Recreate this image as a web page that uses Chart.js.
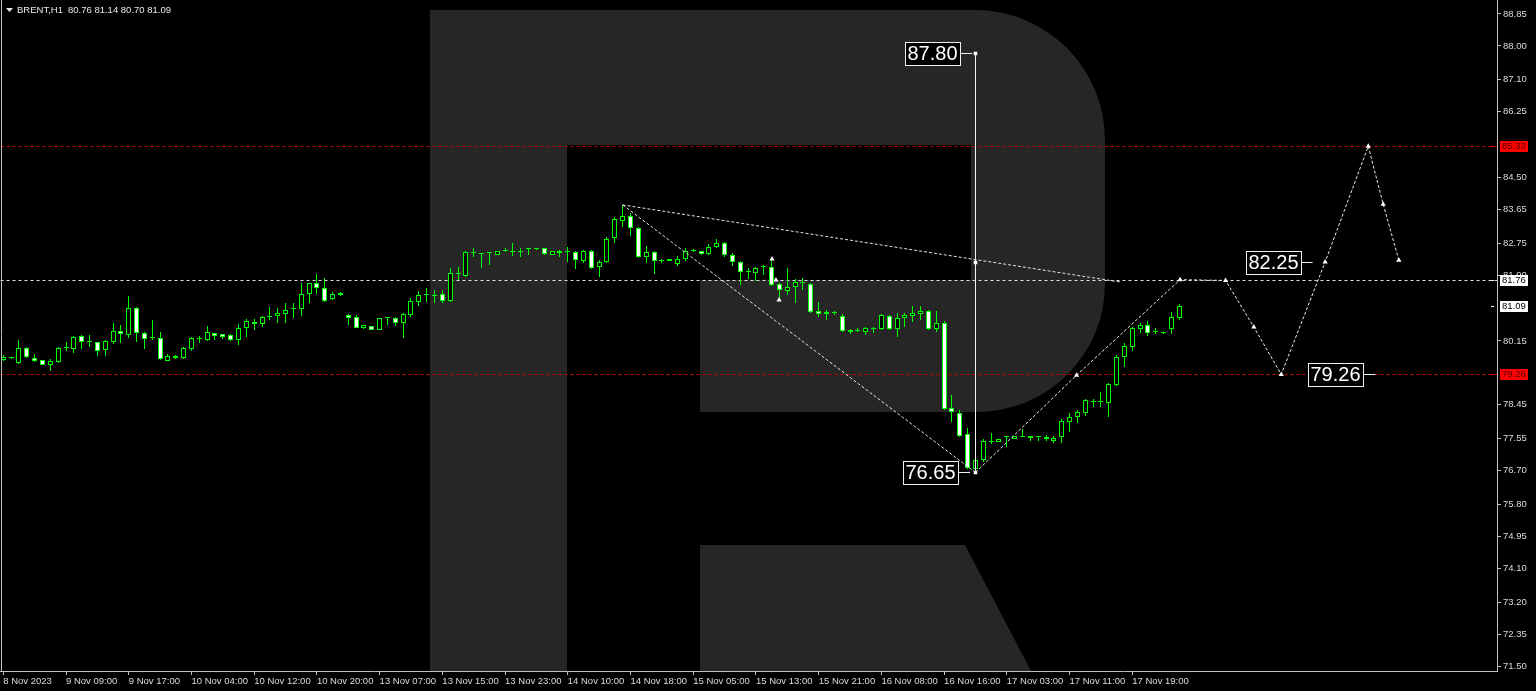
<!DOCTYPE html>
<html>
<head>
<meta charset="utf-8">
<style>
  html, body { margin: 0; padding: 0; background: #000; overflow: hidden; }
</style>
<script src="https://cdn.jsdelivr.net/npm/chart.js@4.4.0/dist/chart.umd.min.js"></script>
</head>
<body>
<canvas id="chart" width="1536" height="691"></canvas>
<script>
"use strict";

// BRENT H1 candles
const opens = [79.64,79.70,79.57,79.97,79.70,79.64,79.51,79.59,79.97,79.94,80.29,80.12,80.12,79.91,80.12,80.41,80.31,81.03,80.36,80.23,
  80.23,79.62,79.70,79.70,79.94,80.20,80.18,80.36,80.33,80.31,80.18,80.49,80.65,80.60,80.79,80.81,80.87,80.99,81.00,81.40,
  81.69,81.56,81.27,81.38,80.84,80.79,80.49,80.55,80.44,80.76,80.76,80.63,80.84,81.19,81.37,81.35,81.40,81.21,81.93,81.88,
  82.49,82.46,82.49,82.44,82.54,82.52,82.51,82.59,82.59,82.62,82.44,82.54,82.52,82.51,82.28,82.54,82.12,82.25,82.89,83.34,
  83.47,83.16,82.38,82.52,82.28,82.28,82.20,82.33,82.54,82.54,82.46,82.65,82.76,82.44,82.25,81.98,81.96,82.12,82.12,81.67,
  81.48,81.59,81.69,81.67,80.95,80.87,80.89,80.81,80.44,80.41,80.39,80.49,80.47,80.81,80.47,80.76,80.81,80.87,80.95,80.47,
  80.63,78.36,78.23,77.67,76.74,76.98,77.46,77.46,77.59,77.54,77.59,77.62,77.60,77.59,77.49,77.59,77.99,78.13,78.23,78.53,
  78.54,78.50,78.98,79.72,79.99,80.47,80.57,80.39,80.36,80.47,80.76];
const highs = [79.78,79.72,80.18,79.99,79.81,79.65,79.67,79.99,80.12,80.29,80.31,80.31,80.13,80.18,80.63,80.57,81.35,81.05,80.39,80.71,
  80.39,79.81,79.77,79.99,80.26,80.29,80.55,80.37,80.34,80.33,80.60,80.73,80.73,80.81,81.05,81.03,81.16,81.16,81.69,81.70,
  81.93,81.82,81.45,81.45,80.87,80.84,80.58,80.56,80.77,80.79,80.79,80.89,81.29,81.48,81.56,81.51,81.51,82.09,82.12,82.54,
  82.62,82.48,82.52,82.55,82.62,82.76,82.62,82.62,82.63,82.63,82.55,82.57,82.65,82.54,82.57,82.57,82.30,82.92,83.45,83.77,
  83.55,83.18,82.68,82.54,82.33,82.34,82.41,82.62,82.60,82.55,82.73,82.86,82.77,82.49,82.27,82.09,82.12,82.17,82.36,81.69,
  82.09,81.80,81.82,81.69,81.19,80.97,80.95,80.87,80.47,80.49,80.52,80.52,80.86,80.83,80.89,80.89,81.08,81.08,80.97,80.95,
  80.68,78.71,78.31,77.83,77.04,77.54,77.70,77.55,77.62,77.63,77.81,77.63,77.63,77.65,77.62,78.07,78.23,78.31,78.61,78.61,
  78.79,79.03,79.78,80.10,80.52,80.63,80.68,80.49,80.39,80.92,81.14];
const lows = [79.62,79.67,79.54,79.70,79.59,79.50,79.35,79.57,79.88,79.83,79.94,79.99,79.75,79.75,80.07,80.09,80.23,80.12,79.94,80.18,
  79.64,79.62,79.68,79.67,79.88,80.09,80.15,80.18,80.21,80.15,80.04,80.26,80.44,80.52,80.71,80.63,80.63,80.76,80.81,81.16,
  81.40,81.19,81.24,81.35,80.57,80.49,80.47,80.43,80.43,80.57,80.55,80.23,80.79,81.08,81.19,81.16,81.16,81.19,81.77,81.85,
  82.38,82.09,82.17,82.43,82.53,82.41,82.38,82.44,82.58,82.45,82.43,82.38,82.25,82.07,82.22,82.07,81.85,82.22,82.76,83.18,
  82.94,82.36,82.22,81.93,82.22,82.27,82.14,82.28,82.52,82.45,82.44,82.62,82.38,82.14,81.64,81.80,81.75,81.90,81.61,81.29,
  81.37,81.16,81.51,80.89,80.79,80.71,80.84,80.39,80.33,80.40,80.31,80.36,80.45,80.45,80.26,80.52,80.65,80.71,80.44,80.39,
  78.31,78.00,77.59,76.74,76.65,76.93,77.41,77.45,77.33,77.53,77.59,77.49,77.49,77.49,77.44,77.44,77.73,77.97,78.15,78.39,
  78.39,78.13,78.95,79.46,79.88,80.36,80.28,80.33,80.33,80.33,80.70];
const closes = [79.72,79.69,79.97,79.72,79.62,79.51,79.62,79.97,79.96,80.26,80.12,80.13,79.88,80.15,80.41,80.33,81.03,80.36,80.20,80.22,
  79.67,79.75,79.75,79.97,80.23,80.21,80.39,80.28,80.26,80.18,80.49,80.68,80.60,80.79,80.81,80.89,80.97,81.00,81.40,81.69,
  81.56,81.21,81.40,81.43,80.76,80.49,80.57,80.44,80.76,80.77,80.63,80.87,81.21,81.37,81.38,81.34,81.21,81.96,81.94,82.52,
  82.50,82.47,82.50,82.54,82.54,82.51,82.52,82.60,82.62,82.46,82.54,82.49,82.51,82.30,82.54,82.09,82.25,82.86,83.39,83.47,
  83.16,82.38,82.52,82.28,82.27,82.33,82.33,82.54,82.55,82.46,82.65,82.76,82.44,82.25,81.98,81.99,82.09,82.11,81.64,81.51,
  81.59,81.72,81.70,80.92,80.87,80.92,80.90,80.41,80.39,80.41,80.49,80.47,80.84,80.47,80.76,80.84,80.89,80.95,80.47,80.63,
  78.34,78.26,77.62,76.77,76.98,77.49,77.47,77.54,77.60,77.62,77.60,77.57,77.59,77.54,77.57,78.02,78.13,78.26,78.58,78.54,
  78.53,79.00,79.72,80.02,80.49,80.57,80.36,80.38,80.37,80.79,81.09];

// time axis: bar index of each date tick and its text
const timeTickIdx = [0, 8, 16, 24, 32, 40, 48, 56, 64, 72, 80, 88, 96, 104, 112, 120, 128, 136, 144];
const timeLabels = ['8 Nov 2023', '9 Nov 09:00', '9 Nov 17:00', '10 Nov 04:00', '10 Nov 12:00', '10 Nov 20:00',
  '13 Nov 07:00', '13 Nov 15:00', '13 Nov 23:00', '14 Nov 10:00', '14 Nov 18:00', '15 Nov 05:00', '15 Nov 13:00',
  '15 Nov 21:00', '16 Nov 08:00', '16 Nov 16:00', '17 Nov 03:00', '17 Nov 11:00', '17 Nov 19:00'];
const priceTicks = [71.50, 72.35, 73.20, 74.10, 74.95, 75.80, 76.70, 77.55, 78.45, 80.15, 81.90, 82.75, 83.65, 84.50, 86.25, 87.10, 88.00, 88.85];

// horizontal levels
const redLevels = [85.33, 79.26];
const whiteLevels = [81.76];

// drawn analysis (bar index, price)
const fallLineX = [79, 124];
const fallLineY = [83.77, 76.65];
const topLineX = [79, 142.4];
const topLineY = [83.77, 81.72];
const pathX = [124, 136.9, 150.1, 155.9, 159.5, 163.0, 168.6, 174.1, 176.0, 178.0];
const pathY = [76.65, 79.24, 81.78, 81.76, 80.52, 79.26, 82.25, 85.33, 83.79, 82.30];
const arrowX = [98.05, 98.55, 98.95];
const arrowY = [82.33, 81.77, 81.24];
const rangeX = [124, 124, 124];
const rangeY = [76.65, 82.25, 87.80];
const tagValues = [87.80, 76.65, 82.25, 79.26];
const tagX = [123.6, 123.3, 167.0, 175.0];

const FONT = '"Liberation Sans", Arial, sans-serif';
const idx = opens.map((_, i) => i);
const pts = (xs, ys) => xs.map((x, i) => ({x: x, y: ys[i]}));

const backdrop = {
  id: 'backdrop',
  // keep candles and level lines on whole pixels so they stay crisp
  afterDatasetsUpdate(chart) {
    chart.data.datasets.forEach((ds, di) => {
      const meta = chart.getDatasetMeta(di);
      if (ds.type === 'bar') {
        meta.data.forEach(el => {
          el.x = Math.floor(el.x) + 0.5;
          el.y = Math.round(el.y);
          el.base = Math.round(el.base);
          if (Math.abs(el.base - el.y) < 1) el.y = el.base - 1;
        });
      } else if (ds.snap) {
        meta.data.forEach(el => {
          el.x = Math.floor(el.x) + 0.5;
          el.y = Math.floor(el.y) + 0.5;
        });
      }
    });
  },
  beforeDraw(chart) {
    const {ctx, chartArea: a} = chart;
    ctx.save();
    ctx.fillStyle = '#000';
    ctx.fillRect(0, 0, chart.width, chart.height);
    ctx.beginPath();
    ctx.rect(a.left, a.top, a.right - a.left, a.bottom - a.top);
    ctx.clip();
    // logo watermark
    ctx.fillStyle = '#262626';
    ctx.beginPath();
    ctx.moveTo(430, 10);
    ctx.lineTo(972, 10);
    ctx.arcTo(1105, 10, 1105, 200, 130);
    ctx.lineTo(1105, 282);
    ctx.arcTo(1105, 412, 975, 412, 128);
    ctx.lineTo(700, 412);
    ctx.lineTo(700, 280);
    ctx.lineTo(971, 280);
    ctx.lineTo(971, 145);
    ctx.lineTo(567, 145);
    ctx.lineTo(567, a.bottom);
    ctx.lineTo(430, a.bottom);
    ctx.closePath();
    ctx.moveTo(700, 545);
    ctx.lineTo(965, 545);
    ctx.lineTo(1031, a.bottom);
    ctx.lineTo(700, a.bottom);
    ctx.closePath();
    ctx.fill();
    ctx.restore();
  },
  afterDraw(chart) {
    const {ctx, chartArea: a} = chart;
    const xs = chart.scales.x, ys = chart.scales.y;
    ctx.save();
    // frame left edge
    ctx.strokeStyle = '#c0c0c0';
    ctx.lineWidth = 1;
    ctx.beginPath();
    ctx.moveTo(1.5, 0);
    ctx.lineTo(1.5, a.bottom);
    ctx.stroke();

    // symbol header
    const last = closes.length - 1;
    ctx.fillStyle = '#e8e8e8';
    ctx.beginPath();
    ctx.moveTo(6, 8); ctx.lineTo(13, 8); ctx.lineTo(9.5, 12);
    ctx.closePath(); ctx.fill();
    ctx.font = '9.5px ' + FONT;
    ctx.textBaseline = 'middle';
    ctx.textAlign = 'left';
    ctx.fillText('BRENT,H1', 17, 10.5);
    ctx.fillText([opens[last], highs[last], lows[last], closes[last]].map(v => v.toFixed(2)).join(' '), 68, 10.5);

    // value tags on the chart
    ctx.font = '20px ' + FONT;
    tagValues.forEach((v, i) => {
      const px = xs.getPixelForValue(tagX[i]);
      const py = Math.round(ys.getPixelForValue(v));
      const txt = v.toFixed(2);
      const w = Math.ceil(ctx.measureText(txt).width) + 4;
      const right = Math.round(px) - 12;
      const left = right - w;
      ctx.fillStyle = '#000';
      ctx.fillRect(left, py - 11, w, 23);
      ctx.strokeStyle = '#f0f0f0';
      ctx.strokeRect(left + 0.5, py - 10.5, w, 23);
      ctx.beginPath();
      ctx.moveTo(right, py + 0.5);
      ctx.lineTo(px, py + 0.5);
      ctx.stroke();
      ctx.fillStyle = '#ffffff';
      ctx.fillText(txt, left + 2.5, py + 1.5);
    });

    // price-axis level tags
    const axisTag = (v, bg, fg) => {
      const py = Math.round(ys.getPixelForValue(v));
      ctx.fillStyle = bg;
      ctx.fillRect(a.right + 3, py - 5, 28, 11);
      ctx.strokeStyle = bg;
      ctx.beginPath();
      ctx.moveTo(a.right - 6, py + 0.5); ctx.lineTo(a.right - 3, py + 0.5);
      ctx.stroke();
      ctx.fillStyle = fg;
      ctx.font = '9.5px ' + FONT;
      ctx.fillText(v.toFixed(2), a.right + 5, py + 0.5);
    };
    redLevels.forEach(v => axisTag(v, '#ff0000', '#4a0000'));
    whiteLevels.forEach(v => axisTag(v, '#ffffff', '#000000'));
    axisTag(closes[last], '#ffffff', '#000000');
    ctx.restore();
  }
};

const levelSet = (v, color) => ({
  type: 'line',
  data: [{x: -5, y: v}, {x: 200, y: v}],
  borderColor: color,
  borderWidth: 1,
  borderDash: [3, 3],
  pointRadius: 0,
  snap: true,
  order: 9
});

const datasets = [
  {
    type: 'line', data: pts(pathX, pathY), borderColor: '#ececec', borderWidth: 1, borderDash: [3, 2],
    pointRadius: pathX.map((_, i) => i === 0 ? 0 : 3), pointStyle: 'triangle',
    pointBackgroundColor: '#ffffff', pointBorderColor: '#ffffff', pointBorderWidth: 0, order: 0
  },
  {
    type: 'line', data: pts(arrowX, arrowY), showLine: false, pointRadius: 3, pointStyle: 'triangle',
    pointBackgroundColor: '#ffffff', pointBorderColor: '#ffffff', pointBorderWidth: 0, order: 0
  },
  {
    type: 'line', data: pts(fallLineX, fallLineY), borderColor: '#e4e4e4', borderWidth: 1, borderDash: [3, 2],
    pointRadius: 0, order: 1
  },
  {
    type: 'line', data: pts(topLineX, topLineY), borderColor: '#e4e4e4', borderWidth: 1, borderDash: [3, 2],
    pointRadius: 0, order: 1
  },
  {
    type: 'line', data: pts(rangeX, rangeY), borderColor: '#f4f4f4', borderWidth: 1, snap: true,
    pointRadius: 2.5, pointStyle: 'rect', pointBackgroundColor: '#ffffff', pointBorderWidth: 0, order: 1
  },
  {
    type: 'bar', data: idx.map(i => ({x: i, y: [opens[i], closes[i]]})),
    backgroundColor: idx.map(i => closes[i] >= opens[i] ? '#000000' : '#ffffff'),
    borderColor: '#00ff00', borderWidth: 1, borderSkipped: false, barThickness: 5,
    minBarLength: 1, grouped: false, inflateAmount: 0, order: 5
  },
  {
    type: 'bar', data: idx.map(i => ({x: i, y: [lows[i], highs[i]]})),
    backgroundColor: '#00ff00', borderWidth: 0, barThickness: 1, grouped: false, inflateAmount: 0, order: 6
  }
];
redLevels.forEach(v => datasets.push(levelSet(v, '#d00000')));
whiteLevels.forEach(v => datasets.push(levelSet(v, '#e0e0e0')));

new Chart(document.getElementById('chart'), {
  type: 'bar',
  data: { datasets: datasets },
  plugins: [backdrop],
  options: {
    responsive: false,
    animation: false,
    devicePixelRatio: 1,
    events: [],
    layout: { padding: 0, autoPadding: false },
    plugins: { legend: { display: false }, tooltip: { enabled: false } },
    scales: {
      x: {
        type: 'linear', min: -0.42, max: 190.52, offset: false,
        afterBuildTicks: s => { s.ticks = timeTickIdx.map(v => ({value: v})); },
        afterFit: s => { s.height = 20; s.paddingLeft = 0; s.paddingRight = 0; },
        ticks: {
          autoSkip: false, maxRotation: 0, align: 'start', padding: 1, color: '#dcdcdc',
          font: { family: FONT, size: 9.5 },
          callback: (v, i) => timeLabels[i]
        },
        grid: { drawOnChartArea: false, drawTicks: true, tickLength: 4, color: '#c0c0c0', offset: false },
        border: { display: true, color: '#c0c0c0' }
      },
      y: {
        type: 'linear', position: 'right', min: 71.367, max: 89.2225,
        afterBuildTicks: s => { s.ticks = priceTicks.map(v => ({value: v})); },
        afterFit: s => { s.width = 39; s.paddingTop = 0; s.paddingBottom = 0; },
        ticks: {
          padding: 2, color: '#dcdcdc', font: { family: FONT, size: 9.5 },
          callback: v => v.toFixed(2)
        },
        grid: { drawOnChartArea: false, drawTicks: true, tickLength: 4, color: '#c0c0c0' },
        border: { display: true, color: '#c0c0c0' }
      }
    }
  }
});
</script>
</body>
</html>
